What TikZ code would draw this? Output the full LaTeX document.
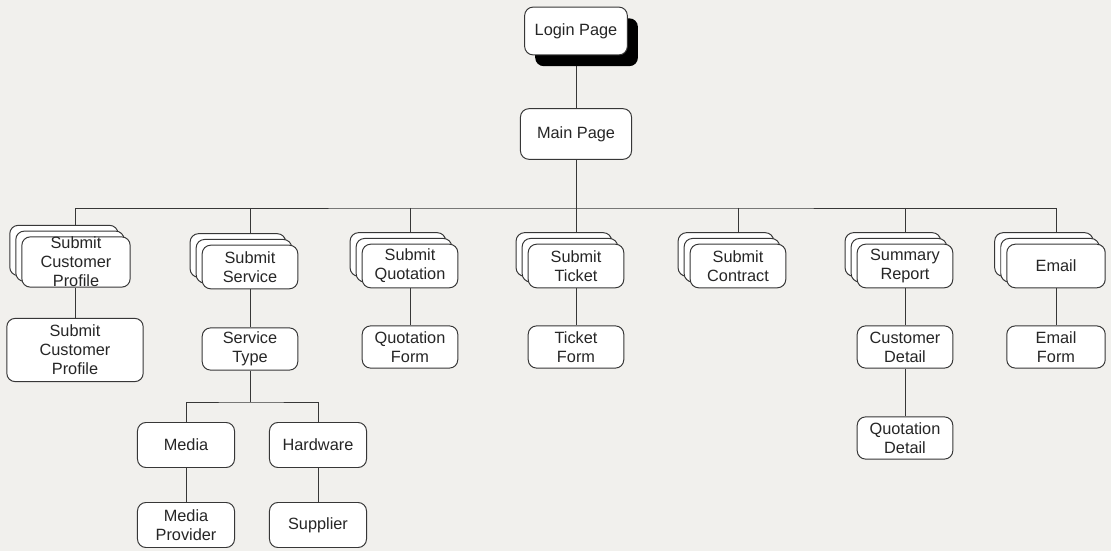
\documentclass[tikz,border=0pt]{standalone}
\usepackage{fontspec}
\setmainfont{Liberation Sans}
\usetikzlibrary{shadows}
\definecolor{paper}{RGB}{241,240,237}
\definecolor{ink}{RGB}{55,55,55}
\pgfdeclarelayer{paperlayer}
\pgfdeclarelayer{background}
\pgfsetlayers{paperlayer,background,main}
\tikzset{
  card/.style={draw=ink, line width=0.7pt, fill=white, rounded corners=6pt,
    align=center, inner sep=0pt, minimum width=68pt, minimum height=31pt,
    font=\fontsize{11.6pt}{13.6pt}\selectfont, text=black!85},
  stacked/.style={card, double copy shadow={shadow xshift=-4.3pt, shadow yshift=4.1pt,
    fill=white, draw=ink, line width=0.7pt}},
  link/.style={draw=ink, line width=0.7pt},
}
\begin{document}
\begin{tikzpicture}[x=0.025cm, y=-0.025cm]
  \begin{pgfonlayer}{paperlayer}
    \fill[paper] (0,0) rectangle (1111,551);
  \end{pgfonlayer}

  % top of the hierarchy
  \node[card, minimum width=73pt, minimum height=34pt,
        drop shadow={shadow xshift=7.5pt, shadow yshift=-8pt, fill=black, opacity=1}]
        (login) at (576,31) {Login Page};
  \node[card, minimum width=79pt, minimum height=36pt] (main) at (576,134) {Main Page};
  \coordinate (bus) at (576,208);

  % second level: stacked pages
  \node[stacked, minimum width=77pt, minimum height=35pt] (cp) at (76,262) {Submit\\Customer\\Profile};
  \node[stacked] (ss) at (250,267) {Submit\\Service};
  \node[stacked] (sq) at (410,266) {Submit\\Quotation};
  \node[stacked] (stk) at (576,266) {Submit\\Ticket};
  \node[stacked] (sc) at (738,266) {Submit\\Contract};
  \node[stacked] (sr) at (905,266) {Summary\\Report};
  \node[stacked, minimum width=70pt] (em) at (1056,266) {Email};

  % third level
  \node[card, minimum width=97pt, minimum height=45pt] (cpf) at (75,350) {Submit\\Customer\\Profile};
  \node[card, minimum height=30pt] (st) at (250,349) {Service\\Type};
  \node[card, minimum height=30pt] (qf) at (410,347) {Quotation\\Form};
  \node[card, minimum height=30pt] (tf) at (576,347) {Ticket\\Form};
  \node[card, minimum height=30pt] (cd) at (905,347) {Customer\\Detail};
  \node[card, minimum width=70pt, minimum height=30pt] (ef) at (1056,347) {Email\\Form};

  % service branch and report detail
  \coordinate (sbus) at (250,402);
  \node[card, minimum width=69pt, minimum height=32pt] (media) at (186,445) {Media};
  \node[card, minimum width=69pt, minimum height=32pt] (hw) at (318,445) {Hardware};
  \node[card, minimum width=69pt, minimum height=32pt] (mp) at (186,525) {Media\\Provider};
  \node[card, minimum width=69pt, minimum height=32pt] (sup) at (318,525) {Supplier};
  \node[card, minimum height=30pt] (qd) at (905,438) {Quotation\\Detail};

  % connectors, kept under the boxes
  \begin{pgfonlayer}{background}
    \draw[link] (login) -- (main);
    \draw[link] (main.south) -- (bus);
    \draw[link] (cp.north -| 75,0) |- (bus) -| (em.north);
    \foreach \n in {ss,sq,stk,sc,sr} \draw[link] (\n.north |- bus) -- (\n.north);
    \draw[link] (cp.south -| 75,0) -- (cpf.north);
    \draw[link] (ss) -- (st);
    \draw[link] (sq) -- (qf);
    \draw[link] (stk) -- (tf);
    \draw[link] (sr) -- (cd);
    \draw[link] (cd) -- (qd);
    \draw[link] (em) -- (ef);
    \draw[link] (st.south) -- (sbus);
    \draw[link] (media.north) |- (sbus) -| (hw.north);
    \draw[link] (media) -- (mp);
    \draw[link] (hw) -- (sup);
  \end{pgfonlayer}
\end{tikzpicture}
\end{document}
